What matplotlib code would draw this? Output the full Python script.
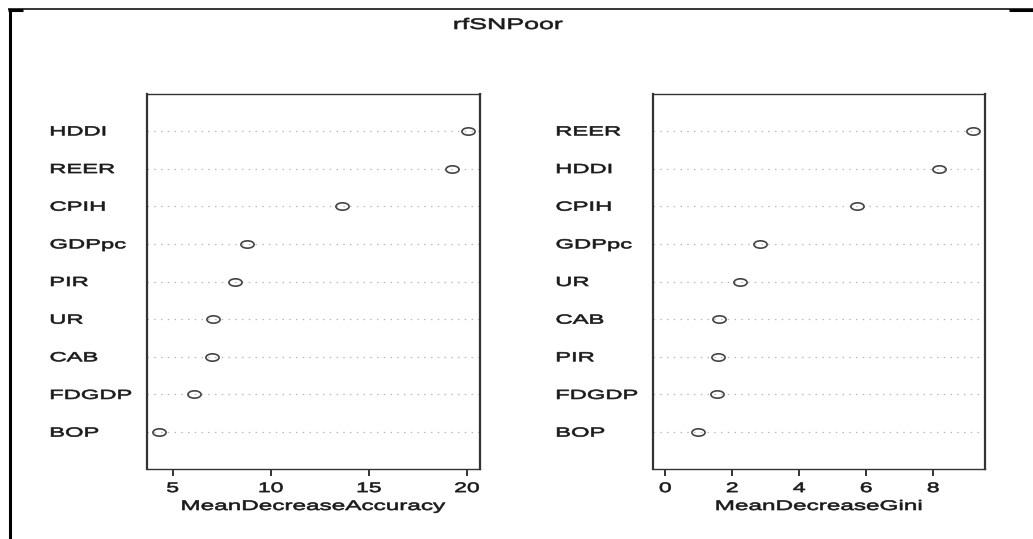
import matplotlib
matplotlib.use("Agg")
import matplotlib.pyplot as plt
from matplotlib.lines import Line2D
from matplotlib.path import Path
from matplotlib.patheffects import AbstractPathEffect
from matplotlib.transforms import Affine2D

# Variable importance from the random forest model rfSNPoor
acc_vars = ["HDDI", "REER", "CPIH", "GDPpc", "PIR", "UR", "CAB", "FDGDP", "BOP"]
acc_vals = [20.03, 19.23, 13.63, 8.79, 8.15, 7.07, 6.98, 6.07, 4.32]

gini_vars = ["REER", "HDDI", "CPIH", "GDPpc", "UR", "CAB", "PIR", "FDGDP", "BOP"]
gini_vals = [9.18, 8.17, 5.71, 2.82, 2.22, 1.60, 1.57, 1.54, 0.97]

acc_ticks = [5, 10, 15, 20]
gini_ticks = [0, 2, 4, 6, 8]

title = "rfSNPoor"
acc_label = "MeanDecreaseAccuracy"
gini_label = "MeanDecreaseGini"

W, H = 1033, 539
DPI = 100
SX = 1.8          # horizontal widening of glyphs and markers
FONT = "Liberation Sans"
INK = "#1a1a1a"
FRAME = "#333333"


class Widen(AbstractPathEffect):
    """Stretch a text path horizontally about a fraction of its width,
    with a thin outline to thicken the strokes."""

    def __init__(self, sx, anchor=0.0, stroke=0.45):
        super().__init__()
        self.sx = sx
        self.anchor = anchor
        self.stroke = stroke

    def draw_path(self, renderer, gc, tpath, affine, rgbFace=None):
        ext = tpath.get_extents()
        xa = ext.x0 + self.anchor * ext.width
        stretch = Affine2D().translate(-xa, 0).scale(self.sx, 1).translate(xa, 0)
        gc0 = renderer.new_gc()
        gc0.copy_properties(gc)
        if rgbFace is not None:
            gc0.set_foreground(rgbFace)
        gc0.set_linewidth(self.stroke)
        renderer.draw_path(gc0, tpath, stretch + affine, rgbFace)
        gc0.restore()


# open elliptical dot marker (wider than tall)
ellipse = Path.unit_circle().transformed(Affine2D().scale(1.0, 1.0 / SX))

fig = plt.figure(figsize=(W / DPI, H / DPI), dpi=DPI)
fig.patch.set_facecolor("white")


def px_box(x0, y0, x1, y1):
    return [x0 / W, 1 - y1 / H, (x1 - x0) / W, (y1 - y0) / H]


def r_range(lo, hi):
    pad = 0.04 * (hi - lo)
    return lo - pad, hi + pad


def dot_panel(rect, names, vals, ticks, xlabel, xmin_zero):
    ax = fig.add_axes(rect)
    n = len(names)
    rows = list(range(n, 0, -1))
    lo = 0 if xmin_zero else min(vals)
    ax.set_xlim(*r_range(lo, max(vals)))
    ax.set_ylim(0.02, n + 0.98)

    for r in rows:
        ax.axhline(r, color="#b8b8b8", lw=0.9, dashes=(1.2, 4.2), zorder=1)
    ax.plot(vals, rows, linestyle="none", marker=ellipse, markersize=9.5,
            markerfacecolor="none", markeredgecolor="#454545",
            markeredgewidth=1.2, zorder=3)

    ax.set_yticks(rows, names)
    ax.tick_params(axis="y", length=0, pad=69.8, labelsize=9.5,
                   labelcolor=INK)
    for lbl in ax.get_yticklabels():
        lbl.set_horizontalalignment("left")
        lbl.set_fontfamily(FONT)
        lbl.set_path_effects([Widen(SX, 0.0)])

    ax.set_xticks(ticks, [str(t) for t in ticks])
    ax.tick_params(axis="x", direction="out", length=5.2, width=1.4,
                   color=FRAME, pad=3.5, labelsize=10, labelcolor=INK)
    for lbl in ax.get_xticklabels():
        lbl.set_fontfamily(FONT)
        lbl.set_path_effects([Widen(1.65, 0.5)])

    xl = ax.set_xlabel(xlabel, fontsize=10, family=FONT, color=INK)
    xl.set_path_effects([Widen(1.75, 0.5)])
    ax.xaxis.set_label_coords(0.5, -0.08)

    for side in ("left", "right"):
        ax.spines[side].set_linewidth(1.6)
        ax.spines[side].set_color(FRAME)
    for side in ("top", "bottom"):
        ax.spines[side].set_linewidth(1.0)
        ax.spines[side].set_color(FRAME)
    return ax


dot_panel(px_box(147, 94, 480, 469), acc_vars, acc_vals, acc_ticks,
          acc_label, xmin_zero=False)
dot_panel(px_box(653, 94, 985, 469), gini_vars, gini_vals, gini_ticks,
          gini_label, xmin_zero=True)

t = fig.text(508 / W, 1 - 25 / H, title, ha="center", va="center",
             fontsize=11, family=FONT, color=INK)
t.set_path_effects([Widen(1.75, 0.5)])


# page frame around the figure
def fig_line(x0, y0, x1, y1, lw):
    fig.add_artist(Line2D([x0 / W, x1 / W], [1 - y0 / H, 1 - y1 / H],
                          transform=fig.transFigure, color="black",
                          lw=lw, solid_capstyle="butt"))


fig_line(8, 9.3, W, 9.3, 1.1)
fig_line(8, 10, 23, 10, 2.2)
fig_line(1009, 10.2, W, 10.2, 2.2)
fig_line(9.5, 8.5, 9.5, H, 2.2)

fig.savefig("out.png", dpi=DPI, facecolor="white")
